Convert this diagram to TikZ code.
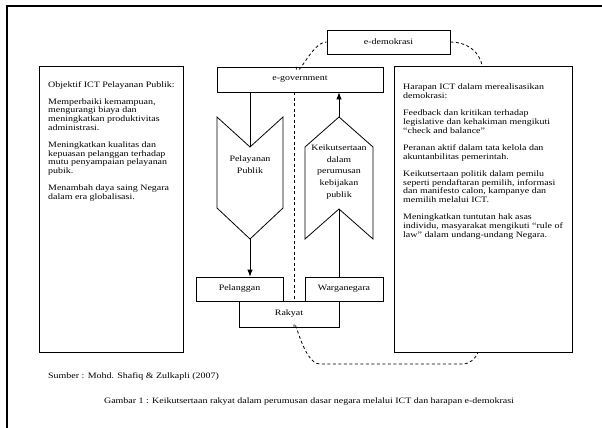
\documentclass[tikz,border=0pt]{standalone}
\usepackage{fontspec}
\setmainfont[FakeStretch=1.2]{Liberation Serif}
\usetikzlibrary{arrows.meta,calc}
\tikzset{
  box/.style={draw=black, line width=0.8pt, fill=white, inner sep=0pt},
  body/.style={font=\fontsize{8.3}{8.7}\selectfont, align=left, inner sep=0pt, anchor=north west, text=black},
  lbl/.style={font=\fontsize{8.3}{11.8}\selectfont, align=center, inner sep=0pt, text=black},
  conn/.style={draw=black, line width=0.8pt},
  dashconn/.style={draw=black, line width=0.8pt, dash pattern=on 3pt off 2.5pt},
  shp/.style={draw=black, line width=0.8pt, line join=miter},
  tip/.style={-{Latex[length=7pt,width=5.5pt]}}
}
\begin{document}
\begin{tikzpicture}[x=1pt,y=-1pt]
\useasboundingbox (0,0) rectangle (602,428);
% outer frame
\draw[line width=1.6pt] (7,440) -- (7,6) -- (615,6);

% side boxes
\node[box, minimum width=144pt, minimum height=286pt] (left) at (111,209) {};
\node[box, minimum width=178pt, minimum height=286pt] (right) at (483,209) {};
\node[body] (lefttxt) at (48,81) {Objektif ICT Pelayanan Publik:\\[8.5pt]
Memperbaiki kemampuan,\\ mengurangi biaya dan\\ meningkatkan produktivitas\\ administrasi.\\[8.5pt]
Meningkatkan kualitas dan\\ kepuasan pelanggan terhadap\\ mutu penyampaian pelayanan\\ pubik.\\[8.5pt]
Menambah daya saing Negara\\ dalam era globalisasi.};
\node[body] (righttxt) at (403,84) {Harapan ICT dalam merealisasikan\\ demokrasi:\\[8.5pt]
Feedback dan kritikan terhadap\\ legislative dan kehakiman mengikuti\\ “check and balance”\\[8.5pt]
Peranan aktif dalam tata kelola dan\\ akuntanbilitas pemerintah.\\[8.5pt]
Keikutsertaan politik dalam pemilu\\ seperti pendaftaran pemilih, informasi\\ dan manifesto calon, kampanye dan\\ memilih melalui ICT.\\[8.5pt]
Meningkatkan tuntutan hak asas\\ individu, masyarakat mengikuti “rule of\\ law” dalam undang-undang Negara.};

% top boxes
\node[box, minimum width=123pt, minimum height=24pt, font=\fontsize{8.3}{10}\selectfont] (edemo) at (388.5,42) {e-demokrasi};
\node[box, minimum width=166pt, minimum height=25pt, font=\fontsize{8.3}{10}\selectfont] (egov) at (300,79.5) {e-government};

% chevrons
\draw[shp] (217,117) -- (250,147) -- (283,117) -- (283,208) -- (250,239) -- (217,208) -- cycle;
\coordinate (pvtop) at (250,147);
\coordinate (pvbot) at (250,239);
\node[lbl] (pvtxt) at (250,165) {Pelayanan\\Publik};
\draw[shp] (339,117) -- (373,147) -- (373,239) -- (339,209) -- (305,239) -- (305,147) -- cycle;
\coordinate (ktop) at (339,117);
\coordinate (kbot) at (339,209);
\node[lbl] (ktxt) at (339,172) {Keikutsertaan\\dalam\\perumusan\\kebijakan\\publik};

% bottom boxes
\node[box, minimum width=87pt, minimum height=24pt, font=\fontsize{8.3}{10}\selectfont] (pel) at (239.5,289) {Pelanggan};
\node[box, minimum width=78pt, minimum height=24pt, font=\fontsize{8.3}{10}\selectfont] (warga) at (344,289) {Warganegara};
\node[box, minimum width=100pt, minimum height=26pt, font=\fontsize{8.3}{10}\selectfont] (rakyat) at (289,314) {Rakyat};

% connectors
\draw[conn] (egov.south -| pvtop) -- (pvtop);
\draw[conn, tip] (pvbot) -- (pel.north -| pvbot);
\draw[conn] (warga.north -| kbot) -- (kbot);
\draw[conn, tip] (ktop) -- (egov.south -| ktop);

% dashed links
\coordinate (dx) at (294,0);
\coordinate (bend1) at (320,364);
\coordinate (bend2) at (462,364);
\coordinate (rx) at (478,0);
\coordinate (tx) at (482,0);
\draw[dashconn] (egov.north -| 296,0) to[out=-85,in=180] (edemo.west);
\draw[dashconn] (edemo.east) to[out=0,in=100] (right.north -| tx);
\draw[dashconn] (egov.south -| dx) -- (rakyat.north -| dx);
\draw[dashconn] (rakyat.south -| dx) to[out=90,in=180] (bend1) -- (bend2) to[out=0,in=-115] (right.south -| rx);

% captions
\node[font=\fontsize{8.3}{10}\selectfont, anchor=base west, inner sep=0pt] (src) at (48,378) {Sumber : Mohd. Shafiq \& Zulkapli (2007)};
\node[font=\fontsize{8.3}{10}\selectfont, anchor=base, inner sep=0pt] (cap) at (309,403) {Gambar 1 : Keikutsertaan rakyat dalam perumusan dasar negara melalui ICT dan harapan e-demokrasi};
\end{tikzpicture}
\end{document}
